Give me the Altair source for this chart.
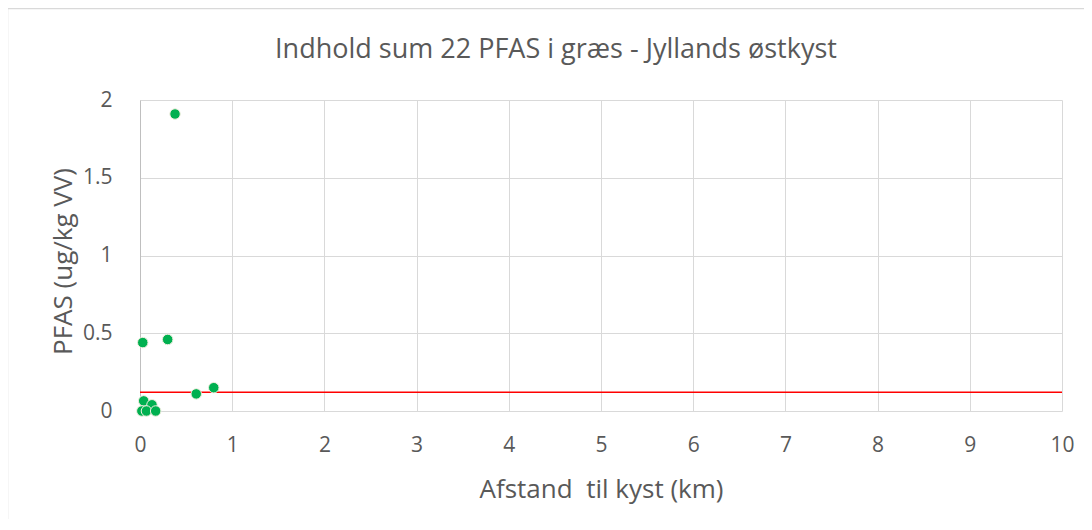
import altair as alt
import pandas as pd

# Data
afstand_km = [0.38, 0.03, 0.30, 0.61, 0.80, 0.04, 0.13, 0.02, 0.07, 0.17]
pfas = [1.91, 0.44, 0.46, 0.11, 0.15, 0.065, 0.04, 0.0, 0.0, 0.0]
graense = [0.12]
titel = ["Indhold sum 22 PFAS i græs - Jyllands østkyst"]

df = pd.DataFrame({"x": afstand_km, "y": pfas})
df_line = pd.DataFrame({"y": graense})
df_title = pd.DataFrame({"t": titel})

FONT = "Open Sans"
GREY = "#595959"

x_scale = alt.Scale(domain=[0, 10], nice=False)
y_scale = alt.Scale(domain=[0, 2], nice=False)

points = alt.Chart(df).mark_circle(
    size=110, color="#00B050", opacity=1, stroke="#eeeede", strokeWidth=1
).encode(
    x=alt.X("x:Q", scale=x_scale, title="Afstand\u00a0 til kyst (km)",
            axis=alt.Axis(values=list(range(0, 11)), labelPadding=23, titlePadding=21,
                          labelFlush=False)),
    y=alt.Y("y:Q", scale=y_scale, title="PFAS (ug/kg VV)",
            axis=alt.Axis(values=[0, 0.5, 1, 1.5, 2], format="~g",
                          labelPadding=28, titlePadding=6, labelFlush=False,
                          titleY=161)),
)

rule = alt.Chart(df_line).mark_rule(color="#FF0000", strokeWidth=1.5).encode(
    y=alt.Y("y:Q", scale=y_scale)
)

frame = alt.Chart(df_line).mark_rect(
    fill=None, stroke="#d9d9d9", strokeWidth=1.5, clip=False
).encode(
    x=alt.value(-132.5), x2=alt.value(1000), y=alt.value(-91.5), y2=alt.value(600)
)

title_text = alt.Chart(df_title).mark_text(
    font=FONT, fontSize=27, color=GREY, align="center", baseline="middle"
).encode(
    text="t:N", x=alt.value(416), y=alt.value(-50)
)

chart = alt.layer(frame, rule, points, title_text).properties(
    width=922,
    height=311,
    autosize=alt.AutoSizeParams(type="none"),
    padding={"left": 132, "top": 92, "right": 22, "bottom": 108},
).configure_view(
    stroke=None
).configure_axis(
    labelFont=FONT, titleFont=FONT, labelFontSize=21, titleFontSize=26,
    labelColor=GREY, titleColor=GREY, titleFontWeight="normal",
    gridColor="#d9d9d9", gridWidth=1, ticks=False, domain=False,
).configure_axisY(
    domain=True, domainColor="#bfbfbf", domainWidth=1
)

chart.save("out.html", embed_options={"renderer": "svg", "actions": False})
